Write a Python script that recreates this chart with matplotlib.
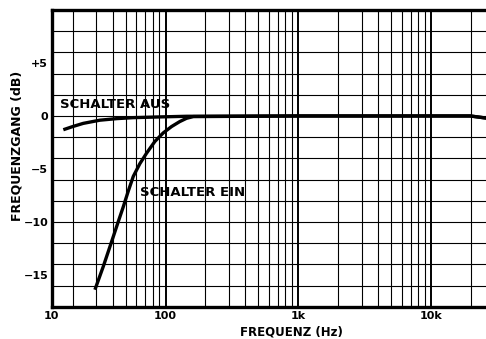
import numpy as np
import matplotlib.pyplot as plt
from matplotlib.ticker import FixedLocator, NullFormatter

# frequency response (Hz, dB)
freq_aus = [17, 20, 24, 32, 43, 57, 91, 144, 1000, 19700, 26000]
gain_aus = [-1.3, -1.0, -0.7, -0.4, -0.25, -0.16, -0.09, -0.03, 0, 0, -0.2]

freq_ein = [29.4, 34, 40.4, 44, 48, 52.4, 57.2, 64.1, 72.1, 83.2, 96.1, 111, 128,
            144, 162, 1000, 19700, 26000]
gain_ein = [-16.4, -14.2, -11.4, -10.0, -8.6, -7.1, -5.7, -4.5, -3.5, -2.4, -1.6,
            -1.0, -0.53, -0.22, -0.06, 0, 0, -0.2]

y_ticks = [5, 0, -5, -10, -15]
y_labels = ['+5', '0', '\u22125', '\u221210', '\u221215']
x_ticks = [13.9, 100, 1000, 10000]
x_labels = ['10', '100', '1k', '10k']

plt.rcParams['font.family'] = ['DejaVu Sans']

fig = plt.figure(figsize=(4.86, 3.39), dpi=100)
ax = fig.add_axes([0.1064, 0.0953, 0.8936, 0.8752])
ax.set_xscale('log')
ax.set_xlim(13.9, 25900)
ax.set_ylim(-18, 10)

# grid: decades heavier, minor lines thin
for dec in [100, 1000, 10000]:
    ax.axvline(dec, color='black', lw=1.4, zorder=1)
for dec in [10, 100, 1000, 10000]:
    for m in range(2, 10):
        f = dec * m
        if f < 25900:
            ax.axvline(f, color='black', lw=0.8, zorder=1)
for y in range(-18, 11, 2):
    ax.axhline(y, color='black', lw=0.8, zorder=1)

ax.plot(freq_aus, gain_aus, color='black', lw=2.4, solid_capstyle='butt', zorder=3)
ax.plot(freq_ein, gain_ein, color='black', lw=2.4, solid_capstyle='butt', zorder=3)

ax.text(16, 0.75, 'SCHALTER AUS', fontsize=9.5, fontweight='bold', va='baseline')
ax.text(64, -7.55, 'SCHALTER EIN', fontsize=9.5, fontweight='bold', va='baseline')

ax.xaxis.set_major_locator(FixedLocator(x_ticks))
ax.set_xticklabels(x_labels)
ax.xaxis.set_minor_formatter(NullFormatter())
ax.set_yticks(y_ticks)
ax.set_yticklabels(y_labels)
ax.tick_params(axis='x', which='both', length=0, labelsize=8, pad=3)
ax.tick_params(axis='y', which='both', length=0, labelsize=8, pad=2.5)
for lbl in ax.get_xticklabels() + ax.get_yticklabels():
    lbl.set_fontweight('bold')

for side in ['left', 'bottom', 'top']:
    ax.spines[side].set_linewidth(2.4)
ax.spines['right'].set_visible(False)

ax.set_xlabel('FREQUENZ (Hz)', fontsize=8.5, fontweight='bold')
ax.xaxis.set_label_coords(0.553, -0.062)
ax.set_ylabel('FREQUENZGANG (dB)', fontsize=9, fontweight='bold')
ax.yaxis.set_label_coords(-0.066, 0.543)

fig.savefig('out.png', dpi=100)
